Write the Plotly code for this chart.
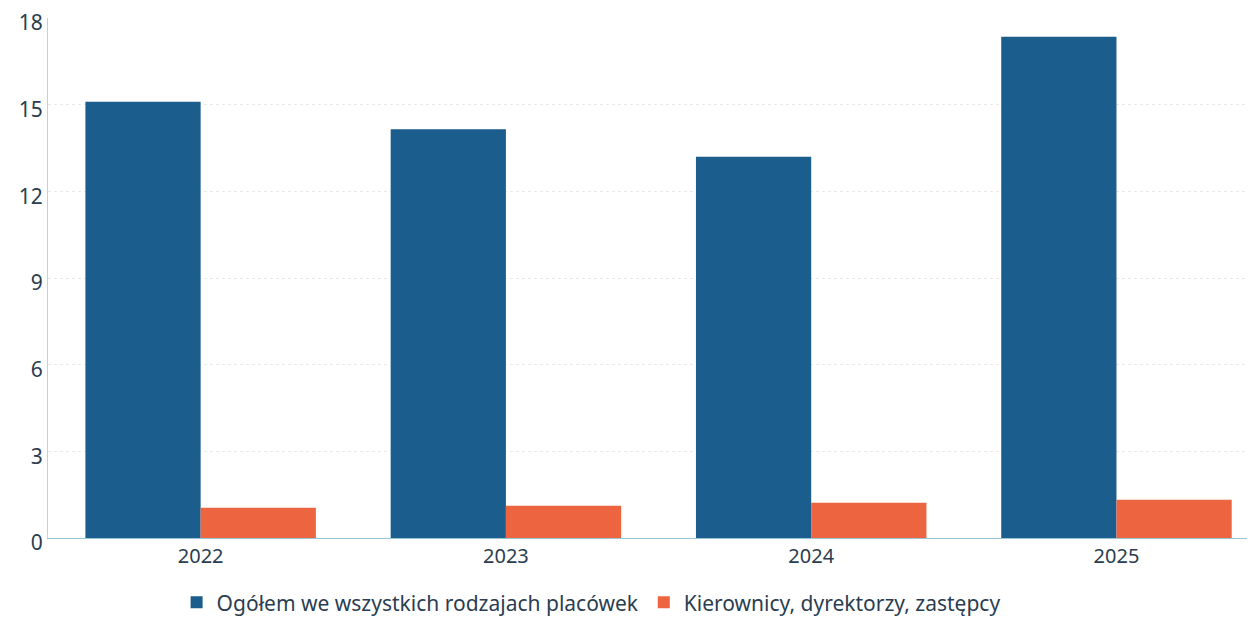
import plotly.graph_objects as go

years = ["2022", "2023", "2024", "2025"]
ogolem = [15.1, 14.15, 13.2, 17.35]
kierownicy = [1.05, 1.12, 1.22, 1.32]
y_ticks = [0, 3, 6, 9, 12, 15, 18]
series_names = ["Ogółem we wszystkich rodzajach placówek", "Kierownicy, dyrektorzy, zastępcy"]

fig = go.Figure()
fig.add_trace(go.Bar(x=years, y=ogolem, name=series_names[0],
                     marker=dict(color="#1b5d8c", line=dict(width=0))))
fig.add_trace(go.Bar(x=years, y=kierownicy, name=series_names[1],
                     marker=dict(color="#ec6440", line=dict(width=0))))

fig.update_layout(
    width=1255, height=618,
    margin=dict(l=40, r=0, t=10, b=88),
    paper_bgcolor="white", plot_bgcolor="white",
    barmode="group", bargap=0.245, bargroupgap=0,
    font=dict(family="Noto Sans", color="#2b3d50", size=20),
    showlegend=True,
    legend=dict(orientation="h", x=0.447, xanchor="center", y=-0.085, yanchor="top",
                font=dict(size=21), itemwidth=30, traceorder="normal"),
)
fig.update_xaxes(type="category", range=[-0.5, 3.48], showline=True, linecolor="#9cc3dc",
                 linewidth=1, ticks="", tickfont=dict(size=20), showgrid=False,
                 automargin=False)
fig.update_yaxes(range=[0, 18], tickvals=y_ticks, showline=True, linecolor="#b9d3e6",
                 linewidth=1, gridcolor="#e6eaef", griddash="dot", gridwidth=1,
                 tickfont=dict(size=21), ticks="", zeroline=False, automargin=False,
                 ticklabeloverflow="allow", ticklabelshift=5)

fig.write_html("out.html")
